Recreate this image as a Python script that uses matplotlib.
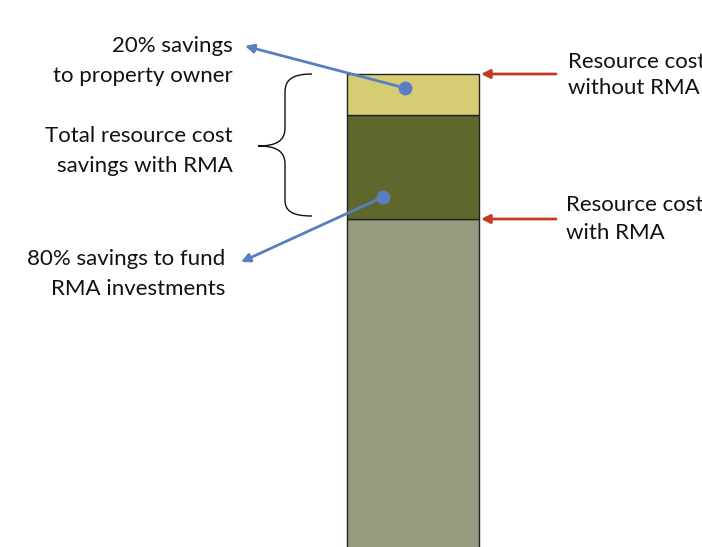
import matplotlib
matplotlib.use('Agg')
import matplotlib.pyplot as plt
from matplotlib.path import Path
from matplotlib.patches import PathPatch

plt.rcParams['font.family'] = ['Lato', 'DejaVu Sans']

# stacked bar, bottom to top (arbitrary cost units)
segments = ['Resource cost with RMA', '80% savings to fund RMA investments',
            '20% savings to property owner']
values = [381, 104, 41]
colors = ['#989c7e', '#5f672c', '#d6cc73']

base = values[0]
total = sum(values)
blue = '#5a7fc0'
red = '#c23b22'

fig = plt.figure(figsize=(7.02, 5.47), dpi=100)
ax = fig.add_axes([0, 0, 1, 1])
ax.set_xlim(0, 702)
ax.set_ylim(53, 600)
ax.axis('off')

bottom = 0
for v, c in zip(values, colors):
    ax.bar(413, v, width=132, bottom=bottom, color=c, edgecolor='#222222', linewidth=1)
    bottom += v

def Y(px):
    # pixel row -> value
    return 600 - px

# curly brace for total savings
verts = [(312, Y(74)),
         (292, Y(74)), (285, Y(80)), (285, Y(92)),
         (285, Y(128)),
         (285, Y(141)), (276, Y(146)), (258, Y(146)),
         (276, Y(146)), (285, Y(151)), (285, Y(164)),
         (285, Y(200)),
         (285, Y(211)), (292, Y(216)), (312, Y(216))]
codes = [Path.MOVETO,
         Path.CURVE4, Path.CURVE4, Path.CURVE4,
         Path.LINETO,
         Path.CURVE4, Path.CURVE4, Path.CURVE4,
         Path.CURVE4, Path.CURVE4, Path.CURVE4,
         Path.LINETO,
         Path.CURVE4, Path.CURVE4, Path.CURVE4]
ax.add_patch(PathPatch(Path(verts, codes), fill=False, edgecolor='#111111', lw=1))

fs = 16
ax.text(233, Y(61), '20% savings\nto property owner', ha='right', va='center',
        fontsize=fs, linespacing=1.57, color='#111111')
ax.text(233, Y(151), 'Total resource cost\nsavings with RMA', ha='right', va='center',
        fontsize=fs, linespacing=1.57, color='#111111')
ax.text(225, Y(274), '80% savings to fund\nRMA investments', ha='right', va='center',
        fontsize=fs, linespacing=1.57, color='#111111')
ax.text(568, Y(75), 'Resource cost\nwithout RMA', ha='left', va='center',
        fontsize=fs, linespacing=1.42, color='#111111', clip_on=True)
ax.text(566, Y(219), 'Resource cost\nwith RMA', ha='left', va='center',
        fontsize=fs, linespacing=1.5, color='#111111', clip_on=True)

# blue callouts from inside the segments
for (dx, dy), (tx, ty) in [((405, Y(88)), (245, Y(46))),
                           ((383, Y(197)), (241, Y(262)))]:
    ax.annotate('', xy=(tx, ty), xytext=(dx, dy),
                arrowprops=dict(arrowstyle='-|>', color=blue, lw=2,
                                mutation_scale=13, shrinkA=0, shrinkB=0))
    ax.plot(dx, dy, 'o', ms=9, color=blue)

# red arrows marking cost levels
for level in [total, base]:
    ax.annotate('', xy=(481, level), xytext=(556, level),
                arrowprops=dict(arrowstyle='-|>', color=red, lw=2,
                                mutation_scale=13, shrinkA=0, shrinkB=0))

fig.savefig('out.png', dpi=100)
